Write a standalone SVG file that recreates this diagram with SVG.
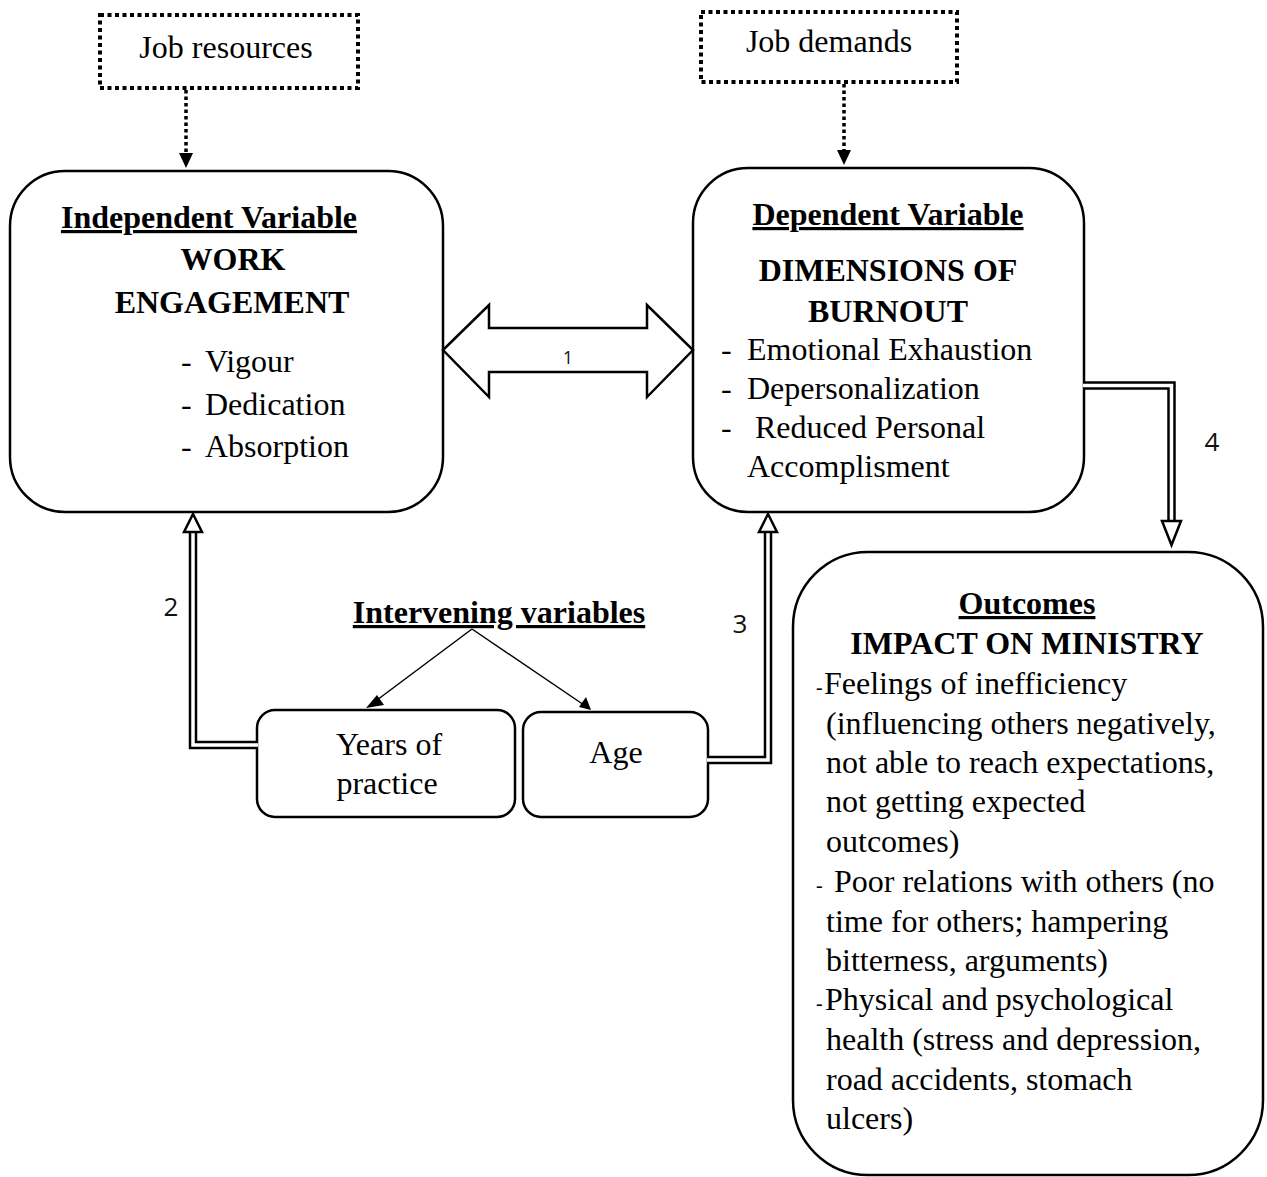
<svg xmlns="http://www.w3.org/2000/svg" width="1267" height="1177" viewBox="0 0 1267 1177">
<style>
.t{font-family:"Liberation Serif","Times New Roman",serif;font-size:32px;fill:#000}
.b{font-weight:bold}
.u{text-decoration:underline}
.m{text-anchor:middle}
.n{font-family:"Open Sans","Liberation Sans",sans-serif;font-size:26px;fill:#111}
.box{fill:#fff;stroke:#000;stroke-width:2.5}
.dot{fill:none;stroke:#000;stroke-width:4;stroke-dasharray:4 3.5}
.dl{fill:none;stroke:#000;stroke-width:3.5;stroke-dasharray:3.5 3}
.dbo{fill:none;stroke:#000;stroke-width:8.5;stroke-linejoin:miter}
.dbi{fill:none;stroke:#fff;stroke-width:3.5;stroke-linejoin:miter}
.oh{fill:#fff;stroke:#000;stroke-width:2.5;stroke-linejoin:miter}
</style>
<rect width="1267" height="1177" fill="#fff"/>

<g id="job-resources">
<rect class="dot" x="100" y="15" width="258" height="73"/>
<text class="t m" x="226" y="58">Job resources</text>
</g>

<g id="job-demands">
<rect class="dot" x="701" y="12" width="256" height="70"/>
<text class="t m" x="829" y="52">Job demands</text>
</g>

<g id="independent">
<rect class="box" x="10" y="171" width="433" height="341" rx="55" ry="55"/>
<text class="t b u m" x="209" y="228">Independent Variable</text>
<text class="t b m" x="233" y="270">WORK</text>
<text class="t b m" x="232" y="313">ENGAGEMENT</text>
<text class="t" x="181" y="372">-</text><text class="t" x="205" y="372">Vigour</text>
<text class="t" x="181" y="415">-</text><text class="t" x="205" y="415">Dedication</text>
<text class="t" x="181" y="457">-</text><text class="t" x="205" y="457">Absorption</text>
</g>

<g id="dependent">
<rect class="box" x="693" y="168" width="391" height="344" rx="55" ry="55"/>
<text class="t b u m" x="888" y="225">Dependent Variable</text>
<text class="t b m" x="888" y="281">DIMENSIONS OF</text>
<text class="t b m" x="888" y="322">BURNOUT</text>
<text class="t" x="721" y="360">-</text><text class="t" x="747" y="360">Emotional Exhaustion</text>
<text class="t" x="721" y="399">-</text><text class="t" x="747" y="399">Depersonalization</text>
<text class="t" x="721" y="438">-</text><text class="t" x="755" y="438">Reduced Personal</text>
<text class="t" x="747" y="477">Accomplisment</text>
</g>

<g id="intervening">
<text class="t b u m" x="499" y="623">Intervening variables</text>
</g>

<g id="years">
<rect class="box" x="257" y="710" width="258" height="107" rx="18" ry="18"/>
<text class="t m" x="389" y="755">Years of</text>
<text class="t m" x="387" y="794">practice</text>
</g>

<g id="age">
<rect class="box" x="523" y="712" width="185" height="105" rx="18" ry="18"/>
<text class="t m" x="616" y="763">Age</text>
</g>

<g id="outcomes">
<rect class="box" x="793" y="552" width="470" height="623" rx="75" ry="75"/>
<text class="t b u m" x="1027" y="614">Outcomes</text>
<text class="t b m" x="1027" y="654">IMPACT ON MINISTRY</text>
<text class="t" x="816" y="694" style="font-size:20px">-</text><text class="t" x="824" y="694">Feelings of inefficiency</text>
<text class="t" x="826" y="734">(influencing others negatively,</text>
<text class="t" x="826" y="773">not able to reach expectations,</text>
<text class="t" x="826" y="812">not getting expected</text>
<text class="t" x="826" y="852">outcomes)</text>
<text class="t" x="816" y="892" style="font-size:20px">-</text><text class="t" x="834" y="892">Poor relations with others (no</text>
<text class="t" x="826" y="932">time for others; hampering</text>
<text class="t" x="826" y="971">bitterness, arguments)</text>
<text class="t" x="816" y="1010" style="font-size:20px">-</text><text class="t" x="825" y="1010">Physical and psychological</text>
<text class="t" x="826" y="1050">health (stress and depression,</text>
<text class="t" x="826" y="1090">road accidents, stomach</text>
<text class="t" x="826" y="1129">ulcers)</text>
</g>

<g id="connectors">
<line class="dl" x1="186" y1="90" x2="186" y2="154"/>
<polygon points="179,153 193,153 186,168" fill="#000"/>
<line class="dl" x1="844" y1="84" x2="844" y2="151"/>
<polygon points="837,150 851,150 844,165" fill="#000"/>

<polygon class="oh" points="443,350 489,305 489,328 647,328 647,305 693,350 647,397 647,372 489,372 489,397"/>
<text class="n m" x="568" y="364" style="font-size:18px">1</text>

<path class="dbo" d="M257,745 H193 V532"/>
<path class="dbi" d="M258,745 H193 V533"/>
<polygon class="oh" points="184,532 202,532 193,514"/>
<text class="n m" x="171" y="616">2</text>

<path class="dbo" d="M708,760 H768 V532"/>
<path class="dbi" d="M707,760 H768 V533"/>
<polygon class="oh" points="759,532 777,532 768,514"/>
<text class="n m" x="740" y="633">3</text>

<path class="dbo" d="M1084,385.5 H1171.5 V521"/>
<path class="dbi" d="M1083,385.5 H1171.5 V522"/>
<polygon class="oh" points="1162,521 1181,521 1171.5,545"/>
<text class="n m" x="1212" y="451">4</text>

<line x1="472" y1="629" x2="373" y2="703" stroke="#000" stroke-width="1.5"/>
<polygon points="366,708 377,695 384,705" fill="#000"/>
<line x1="472" y1="629" x2="584" y2="705" stroke="#000" stroke-width="1.5"/>
<polygon points="591,710 579,707 586,697" fill="#000"/>
</g>
</svg>
